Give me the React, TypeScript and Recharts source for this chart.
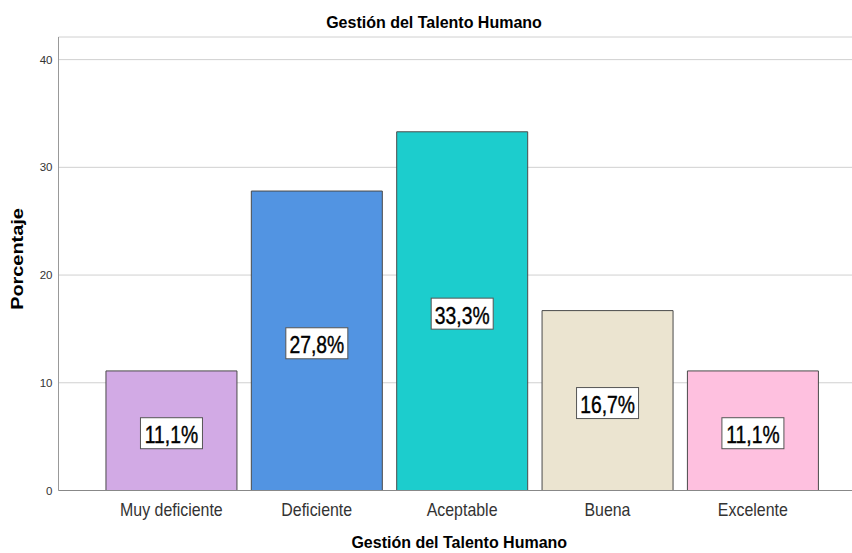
import { BarChart, Bar, XAxis, YAxis, CartesianGrid, LabelList, Label, Cell } from 'recharts'

// Gestión del Talento Humano - porcentaje por nivel
const categories = ['Muy deficiente', 'Deficiente', 'Aceptable', 'Buena', 'Excelente']
const percentages = [11.1, 27.8, 33.3, 16.7, 11.1]
const barColors = ['#d2aae5', '#5294e2', '#1ccdcd', '#ebe4d0', '#fec0df']
const yTicks = [0, 10, 20, 30, 40]

const chartData = categories.map((name, i) => ({ name, value: percentages[i] }))

const FONT = "'Liberation Sans', Arial, sans-serif"

const formatPct = (v: number) => v.toFixed(1).replace('.', ',') + '%'

function ValueBox(props: any) {
  const { x, y, width, height, value } = props
  const cx = Number(x) + Number(width) / 2
  const cy = Number(y) + Number(height) / 2 + 2.5
  return (
    <g>
      <rect x={cx - 31} y={cy - 15.5} width={62} height={31} fill="#fff" stroke="#555" strokeWidth={1} />
      <text
        transform={`translate(${cx},${cy + 10}) scale(0.84,1)`}
        textAnchor="middle"
        fontSize={23}
        fontFamily={FONT}
        fill="#000"
        stroke="#000"
        strokeWidth={0.4}
      >
        {formatPct(value)}
      </text>
    </g>
  )
}

function CategoryTick(props: any) {
  const { x, y, payload } = props
  return (
    <text
      transform={`translate(${x},${y + 25}) scale(0.91,1)`}
      textAnchor="middle"
      fontSize={17.5}
      fontFamily={FONT}
      fill="#333"
    >
      {payload.value}
    </text>
  )
}

function XTitle(props: any) {
  const { viewBox } = props
  const cx = viewBox.x + viewBox.width / 2 + 4
  return (
    <text x={cx} y={548} textAnchor="middle" fontSize={16} fontWeight="bold" fontFamily={FONT} fill="#000">
      Gestión del Talento Humano
    </text>
  )
}

function YTitle() {
  return (
    <text
      transform="translate(23,259) rotate(-90) scale(1.17,1)"
      textAnchor="middle"
      fontSize={17}
      fontWeight="bold"
      fontFamily={FONT}
      fill="#000"
    >
      Porcentaje
    </text>
  )
}

export default function App() {
  return (
    <div style={{ position: 'absolute', left: 0, top: 0, width: 852, height: 553, background: '#fff' }}>
      <svg width={852} height={40} style={{ position: 'absolute', left: 0, top: 0 }}>
        <text x={434} y={27.7} textAnchor="middle" fontSize={16} fontWeight="bold" fontFamily={FONT} fill="#000">
          Gestión del Talento Humano
        </text>
      </svg>
      <BarChart
        width={852}
        height={553}
        data={chartData}
        margin={{ top: 37, right: 0, bottom: 0, left: 0 }}
        barCategoryGap="5%"
      >
        <CartesianGrid vertical={false} stroke="#d0d0d0" />
        <XAxis
          dataKey="name"
          height={62.5}
          padding={{ left: 40.2, right: 26.5 }}
          stroke="#888"
          tickLine={false}
          tickSize={0}
          tickMargin={0}
          tick={<CategoryTick />}
          interval={0}
        >
          <Label content={<XTitle />} />
        </XAxis>
        <YAxis
          width={58.5}
          domain={[0, 42.1]}
          ticks={yTicks}
          stroke="#999"
          tickLine={false}
          tickSize={0}
          tickMargin={6}
          tick={{ fill: '#333', fontSize: 11.5, fontFamily: FONT }}
        >
          <Label content={<YTitle />} />
        </YAxis>
        <Bar dataKey="value" stroke="#4a4a4a" strokeWidth={1} isAnimationActive={false}>
          {chartData.map((d, i) => (
            <Cell key={d.name} fill={barColors[i]} />
          ))}
          <LabelList dataKey="value" content={<ValueBox />} />
        </Bar>
      </BarChart>
    </div>
  )
}
